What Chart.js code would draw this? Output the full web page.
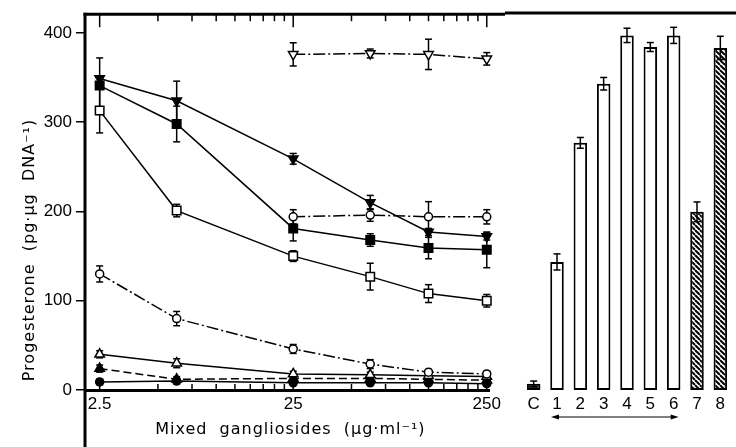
<!DOCTYPE html>
<html lang="en">
<head>
<meta charset="UTF-8" />
<title>Progesterone vs mixed gangliosides</title>
<script src="https://cdn.jsdelivr.net/npm/chart.js"></script>
<style>
  body { margin: 0; background: #fff; }
  .wrap { position: relative; width: 736px; height: 447px; }
  #lineChart { position: absolute; left: 0; top: 0; }
  #barChart { position: absolute; left: 505px; top: 0; }
</style>
</head>
<body>
<div class="wrap">
  <canvas id="lineChart" width="505" height="447" style="width:505px;height:447px"></canvas>
  <canvas id="barChart" width="231" height="447" style="width:231px;height:447px"></canvas>
</div>
<script>
// doses (ug/ml)
const doses = [2.5, 6.25, 25, 62.5, 125, 250];
const dosesHigh = [25, 62.5, 125, 250];

// progesterone series, values + SEM
const filledDown = [349, 324, 259, 210, 177, 172];
const filledDownErr = [0, 22, 6, 8, 4, 4];
const filledSquare = [341, 298, 181, 168, 159, 157];
const filledSquareErr = [31, 20, 14, 7, 12, 20];
const openSquare = [313, 201, 150, 127, 108, 100];
const openSquareErr = [25, 7, 6, 15, 10, 7];
const openDown = [376, 377, 376, 371];
const openDownErr = [13, 5, 17, 7];
const openCircleHigh = [194, 196, 194, 194];
const openCircleHighErr = [8, 7, 17, 8];
const openCircle = [130, 80, 46, 29, 20, 18];
const openCircleErr = [9, 8, 5, 5, 3, 3];
const openTri = [40, 30, 18, 17, 16, 15];
const openTriErr = [4, 5, 3, 3, 3, 3];
const filledTri = [24, 12, 13, 13, 12, 11];
const filledTriErr = [4, 3, 3, 3, 3, 3];
const filledCircle = [9, 10, 8, 8, 8, 7];
const filledCircleErr = [3, 3, 2, 2, 2, 2];

// bar panel
const barLabels = ['C', '1', '2', '3', '4', '5', '6', '7', '8'];
const barValues = [7, 143, 276, 342, 396, 383, 396, 199, 382];
const barErrors = [3, 9, 6, 7, 8, 5, 9, 11, 13];

// axes
const yTicks = [0, 100, 200, 300, 400];
const xTicks = [2.5, 5, 7.5, 10, 12.5, 15, 17.5, 20, 22.5, 25,
                50, 75, 100, 125, 150, 175, 200, 225, 250];
const xLabelled = [2.5, 25, 250];
const yTitle = 'Progesterone  (pg\u00b7\u00b5g  DNA\u207b\u00b9)';
const xTitle = 'Mixed  gangliosides  (\u00b5g\u00b7ml\u207b\u00b9)';

const FONT = '"Liberation Sans", Arial, sans-serif';
const TITLE_FONT = '16px "DejaVu Sans", sans-serif';

function pts(xs, ys) {
    return xs.map((x, i) => ({ x: x, y: ys[i] }));
}

function series(xs, ys, errs, style, dash, filled, rot) {
    let r = 4;
    if (style === 'rect') r = 6;
    if (style === 'triangle') r = 5.5;
    return {
        data: pts(xs, ys),
        errors: errs,
        borderColor: '#000',
        borderWidth: 1.5,
        borderDash: dash,
        pointStyle: style,
        rotation: rot || 0,
        pointRadius: r,
        pointBackgroundColor: filled ? '#000' : '#fff',
        pointBorderColor: '#000',
        pointBorderWidth: 1.5,
        tension: 0,
        fill: false,
        clip: false
    };
}

function line(ctx, x1, y1, x2, y2) {
    ctx.beginPath();
    ctx.moveTo(x1, y1);
    ctx.lineTo(x2, y2);
    ctx.stroke();
}

const dashDot = [12, 3, 2, 3];
const dashed = [8, 4];

const errorBars = {
    id: 'errorBars',
    beforeDatasetsDraw(chart) {
        const ctx = chart.ctx;
        const ys = chart.scales.y;
        ctx.save();
        ctx.strokeStyle = '#000';
        ctx.lineWidth = 1.5;
        ctx.setLineDash([]);
        chart.data.datasets.forEach((ds, di) => {
            const meta = chart.getDatasetMeta(di);
            meta.data.forEach((el, i) => {
                const e = ds.errors[i];
                if (!e) return;
                const v = ds.data[i].y;
                const top = ys.getPixelForValue(v + e);
                const bot = ys.getPixelForValue(v - e);
                line(ctx, el.x, top, el.x, bot);
                line(ctx, el.x - 3.5, top, el.x + 3.5, top);
                line(ctx, el.x - 3.5, bot, el.x + 3.5, bot);
            });
        });
        ctx.restore();
    }
};

const leftFrame = {
    id: 'leftFrame',
    afterDraw(chart) {
        const ctx = chart.ctx;
        const ca = chart.chartArea;
        const xs = chart.scales.x;
        ctx.save();
        ctx.strokeStyle = '#000';
        ctx.setLineDash([]);
        ctx.lineWidth = 3;
        line(ctx, ca.left - 1.5, ca.top, chart.width, ca.top);
        line(ctx, ca.left, ca.top - 1.5, ca.left, chart.height);
        ctx.lineWidth = 1.5;
        xTicks.forEach(v => {
            const px = xs.getPixelForValue(v);
            const major = xLabelled.includes(v);
            line(ctx, px, ca.top, px, ca.top + (major ? 13 : 7));
            line(ctx, px, ca.bottom, px, ca.bottom - (major ? 9 : 6));
        });
        // axis titles
        ctx.fillStyle = '#000';
        ctx.font = TITLE_FONT;
        ctx.letterSpacing = '1px';
        ctx.textAlign = 'center';
        ctx.textBaseline = 'middle';
        ctx.fillText(xTitle, (ca.left + ca.right) / 2 + 3, 430);
        ctx.translate(30, 250);
        ctx.rotate(-Math.PI / 2);
        ctx.fillText(yTitle, 0, 0);
        ctx.restore();
    }
};

new Chart(document.getElementById('lineChart'), {
    type: 'line',
    data: {
        datasets: [
            series(doses, filledDown, filledDownErr, 'triangle', [], true, 180),
            series(doses, filledSquare, filledSquareErr, 'rect', [], true),
            series(doses, openSquare, openSquareErr, 'rect', [], false),
            series(dosesHigh, openDown, openDownErr, 'triangle', dashDot, false, 180),
            series(dosesHigh, openCircleHigh, openCircleHighErr, 'circle', dashDot, false),
            series(doses, openCircle, openCircleErr, 'circle', dashDot, false),
            series(doses, openTri, openTriErr, 'triangle', [], false),
            series(doses, filledTri, filledTriErr, 'triangle', dashed, true),
            series(doses, filledCircle, filledCircleErr, 'circle', [], true)
        ]
    },
    options: {
        responsive: false,
        animation: false,
        layout: { padding: { top: 13, left: 0, right: 5, bottom: 0 } },
        plugins: { legend: { display: false }, tooltip: { enabled: false } },
        scales: {
            x: {
                type: 'logarithmic',
                min: 2.1,
                max: 259,
                afterBuildTicks: s => { s.ticks = xTicks.map(v => ({ value: v })); },
                afterFit: s => { s.height = 57; },
                grid: { display: false, drawTicks: false },
                border: { display: true, color: '#000', width: 3 },
                ticks: {
                    autoSkip: false,
                    maxRotation: 0,
                    padding: 4,
                    color: '#000',
                    font: { family: FONT, size: 17 },
                    callback: v => xLabelled.includes(v) ? String(v) : ''
                }
            },
            y: {
                min: 0,
                max: 421,
                afterBuildTicks: s => { s.ticks = yTicks.map(v => ({ value: v })); },
                afterFit: s => { s.width = 85; },
                grid: { drawOnChartArea: false, drawTicks: true, tickLength: 9, color: '#000', lineWidth: 1.5 },
                border: { display: false },
                ticks: {
                    padding: 4,
                    color: '#000',
                    font: { family: FONT, size: 17 }
                }
            }
        }
    },
    plugins: [errorBars, leftFrame]
});

// hatch for bars 7 and 8
function hatch() {
    const s = 5;
    const c = document.createElement('canvas');
    c.width = s; c.height = s;
    const g = c.getContext('2d');
    g.fillStyle = '#fff';
    g.fillRect(0, 0, s, s);
    g.strokeStyle = '#000';
    g.lineWidth = 2;
    [-s, 0, s].forEach(k => {
        g.beginPath();
        g.moveTo(k, 0);
        g.lineTo(k + s, s);
        g.stroke();
    });
    return g.createPattern(c, 'repeat');
}
const hatchFill = hatch();
const barFills = barLabels.map((l, i) => i === 0 ? '#222' : (i >= 7 ? hatchFill : '#fff'));

const rightFrame = {
    id: 'rightFrame',
    afterDatasetsDraw(chart) {
        const ctx = chart.ctx;
        const ys = chart.scales.y;
        ctx.save();
        ctx.strokeStyle = '#000';
        ctx.lineWidth = 1.5;
        chart.getDatasetMeta(0).data.forEach((el, i) => {
            const v = barValues[i], e = barErrors[i];
            const top = ys.getPixelForValue(v + e);
            const bot = ys.getPixelForValue(v - e);
            line(ctx, el.x, top, el.x, bot);
            line(ctx, el.x - 3.5, top, el.x + 3.5, top);
            line(ctx, el.x - 3.5, bot, el.x + 3.5, bot);
        });
        ctx.restore();
    },
    afterDraw(chart) {
        const ctx = chart.ctx;
        const ca = chart.chartArea;
        const xs = chart.scales.x;
        ctx.save();
        ctx.strokeStyle = '#000';
        ctx.fillStyle = '#000';
        ctx.lineWidth = 3;
        line(ctx, 0, ca.top, chart.width, ca.top);
        // arrow under bars 1..6
        const y = 417;
        const x1 = xs.getPixelForValue(1) - 6;
        const x2 = xs.getPixelForValue(6) + 5;
        ctx.lineWidth = 1.2;
        line(ctx, x1 + 4, y, x2 - 4, y);
        ctx.beginPath();
        ctx.moveTo(x1, y); ctx.lineTo(x1 + 8, y - 2.5); ctx.lineTo(x1 + 8, y + 2.5); ctx.closePath();
        ctx.fill();
        ctx.beginPath();
        ctx.moveTo(x2, y); ctx.lineTo(x2 - 8, y - 2.5); ctx.lineTo(x2 - 8, y + 2.5); ctx.closePath();
        ctx.fill();
        ctx.restore();
    }
};

new Chart(document.getElementById('barChart'), {
    type: 'bar',
    data: {
        labels: barLabels,
        datasets: [{
            data: barValues,
            backgroundColor: barFills,
            borderColor: '#000',
            borderWidth: 2,
            borderSkipped: false,
            barPercentage: 0.58,
            categoryPercentage: 1
        }]
    },
    options: {
        responsive: false,
        animation: false,
        layout: { padding: { top: 13, left: 17, right: 4, bottom: 0 } },
        plugins: { legend: { display: false }, tooltip: { enabled: false } },
        scales: {
            x: {
                afterFit: s => { s.height = 57; },
                grid: { display: false, drawTicks: false },
                border: { display: false },
                ticks: {
                    padding: 4,
                    color: '#000',
                    font: { family: FONT, size: 17 }
                }
            },
            y: {
                display: false,
                min: 0,
                max: 421
            }
        }
    },
    plugins: [rightFrame]
});
</script>
</body>
</html>
